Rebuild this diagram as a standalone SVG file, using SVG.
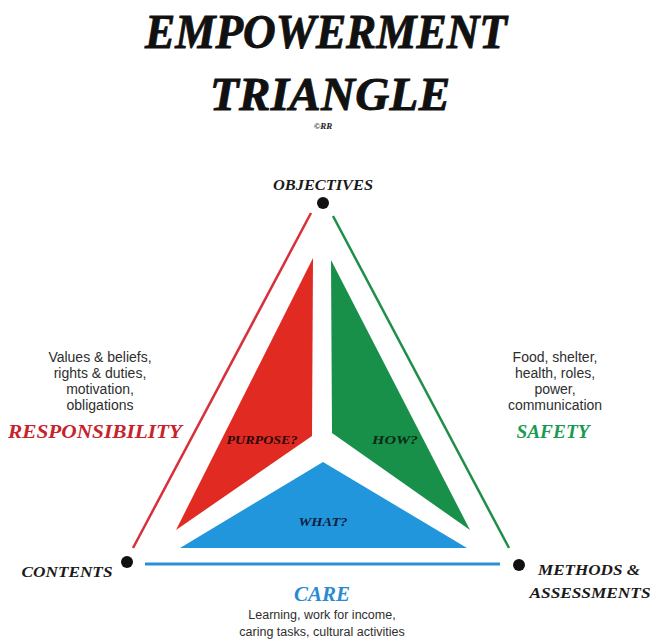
<svg xmlns="http://www.w3.org/2000/svg" width="661" height="642" viewBox="0 0 661 642">
<style>
.title{font-family:"Liberation Serif",serif;font-weight:bold;font-style:italic;fill:#111;stroke:#111;stroke-width:0.9;}
.lab{font-family:"Liberation Serif",serif;font-weight:bold;font-style:italic;fill:#1a1a1a;}
.body{font-family:"Liberation Sans",Arial,sans-serif;fill:#2e2e2e;font-size:12.5px;text-anchor:middle;}
.side{font-size:14px;}
.dot{fill:#111;}
</style>
<rect width="661" height="642" fill="#ffffff"/>
<g id="title">
<text class="title" x="326" y="48" font-size="49" text-anchor="middle" textLength="362" lengthAdjust="spacingAndGlyphs">EMPOWERMENT</text>
<text class="title" x="330" y="110" font-size="47" text-anchor="middle" textLength="240" lengthAdjust="spacing">TRIANGLE</text>
<text class="lab" x="323" y="129" font-size="9" text-anchor="middle">©RR</text>
</g>
<g id="connectors">
<line x1="311" y1="213" x2="133" y2="548" stroke="#d8303a" stroke-width="2.5"/>
<line x1="333" y1="216" x2="509" y2="548" stroke="#1f8f48" stroke-width="2.5"/>
<line x1="145" y1="564" x2="500" y2="564" stroke="#2a90d4" stroke-width="3"/>
</g>
<g id="node-objectives">
<circle class="dot" cx="323" cy="203" r="6"/>
<text class="lab" x="323" y="190" font-size="14" text-anchor="middle" textLength="100" lengthAdjust="spacingAndGlyphs">OBJECTIVES</text>
</g>
<g id="node-contents">
<circle class="dot" cx="127" cy="562" r="6"/>
<text class="lab" x="67" y="577" font-size="15" text-anchor="middle" textLength="91" lengthAdjust="spacingAndGlyphs">CONTENTS</text>
</g>
<g id="node-methods">
<circle class="dot" cx="519" cy="565" r="6"/>
<text class="lab" x="589" y="575" font-size="15" text-anchor="middle" textLength="102" lengthAdjust="spacingAndGlyphs">METHODS &amp;</text>
<text class="lab" x="590" y="598" font-size="15" text-anchor="middle" textLength="121" lengthAdjust="spacingAndGlyphs">ASSESSMENTS</text>
</g>
<g id="node-purpose">
<polygon points="313,258 312,436 176,530" fill="#e02a22"/>
<text class="lab" x="262" y="444" font-size="13" text-anchor="middle" style="fill:#2a0808" textLength="71" lengthAdjust="spacingAndGlyphs">PURPOSE?</text>
</g>
<g id="node-how">
<polygon points="331,260 332,433 470,530" fill="#18904a"/>
<text class="lab" x="395" y="444" font-size="13" text-anchor="middle" style="fill:#0a2a14" textLength="46" lengthAdjust="spacingAndGlyphs">HOW?</text>
</g>
<g id="node-what">
<polygon points="323,462 180,548 467,548" fill="#2296dc"/>
<text class="lab" x="323" y="526" font-size="13" text-anchor="middle" style="fill:#0a1f40" textLength="49" lengthAdjust="spacingAndGlyphs">WHAT?</text>
</g>
<g id="node-responsibility">
<text class="body side" x="100" y="362">Values &amp; beliefs,</text>
<text class="body side" x="100" y="378">rights &amp; duties,</text>
<text class="body side" x="100" y="394">motivation,</text>
<text class="body side" x="100" y="410">obligations</text>
<text class="lab" x="95" y="438" font-size="19" text-anchor="middle" style="fill:#c8232c" textLength="174" lengthAdjust="spacingAndGlyphs">RESPONSIBILITY</text>
</g>
<g id="node-safety">
<text class="body side" x="555" y="362">Food, shelter,</text>
<text class="body side" x="555" y="378">health, roles,</text>
<text class="body side" x="555" y="394">power,</text>
<text class="body side" x="555" y="410">communication</text>
<text class="lab" x="553" y="438" font-size="19" text-anchor="middle" style="fill:#1a9a50" textLength="73" lengthAdjust="spacingAndGlyphs">SAFETY</text>
</g>
<g id="node-care">
<text class="lab" x="322" y="601" font-size="20" text-anchor="middle" style="fill:#2a8ad0" textLength="56" lengthAdjust="spacingAndGlyphs">CARE</text>
<text class="body" x="322" y="619">Learning, work for income,</text>
<text class="body" x="322" y="636">caring tasks, cultural activities</text>
</g>
</svg>
